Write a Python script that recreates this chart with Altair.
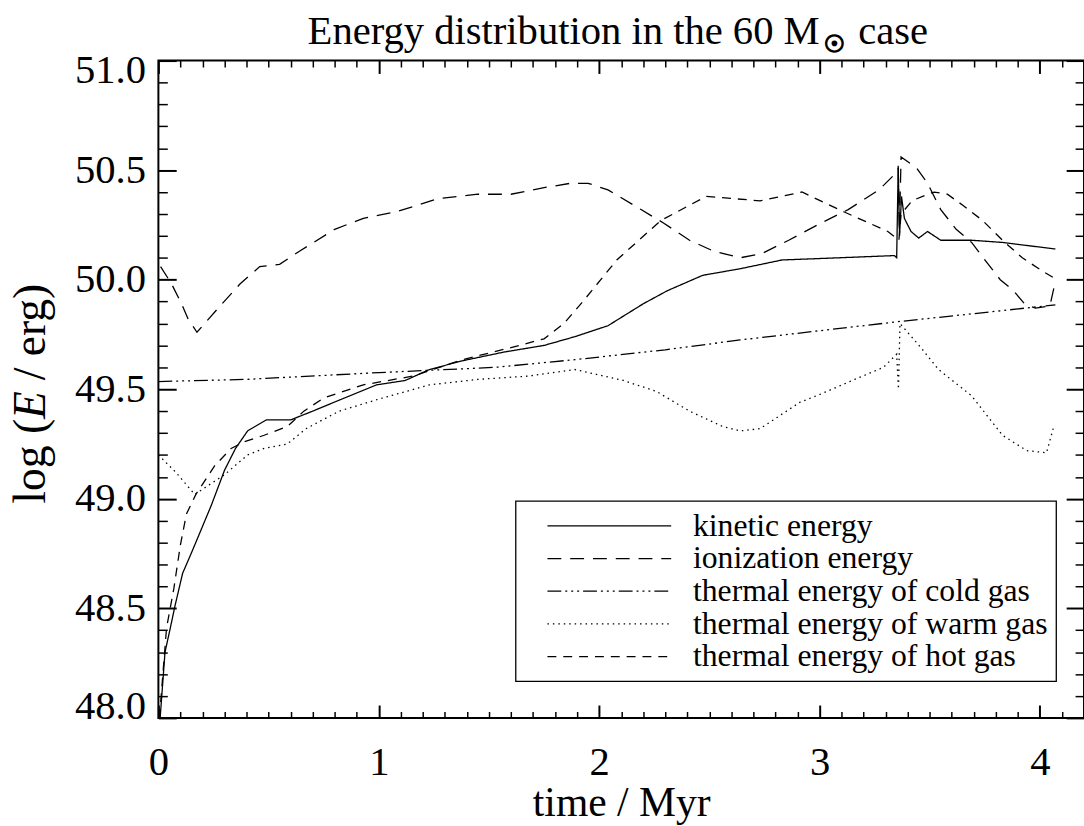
import altair as alt
import pandas as pd

# ---------------- data ----------------
series_names = ["kinetic energy", "ionization energy", "thermal energy of cold gas",
                "thermal energy of warm gas", "thermal energy of hot gas"]

kinetic_t = [0.008, 0.03, 0.054, 0.075, 0.11, 0.157, 0.24, 0.30, 0.35, 0.405, 0.49, 0.60, 0.70,
             0.82, 0.99, 1.12, 1.23, 1.38, 1.57, 1.75, 1.89, 2.04, 2.20, 2.31, 2.47, 2.64, 2.83,
             3.09, 3.34, 3.35, 3.357, 3.363, 3.372, 3.385, 3.415, 3.45, 3.49, 3.55, 3.69, 3.83, 4.07]
kinetic_v = [48.0, 48.30, 48.41, 48.51, 48.66, 48.77, 48.97, 49.13, 49.23, 49.31, 49.36, 49.36, 49.40,
             49.45, 49.52, 49.54, 49.59, 49.63, 49.67, 49.70, 49.74, 49.79, 49.89, 49.95, 50.02, 50.05, 50.09,
             50.10, 50.11, 50.10, 50.52, 50.20, 50.38, 50.28, 50.22, 50.19, 50.22, 50.18, 50.18, 50.17, 50.14]

ion_t = [0.01, 0.06, 0.105, 0.135, 0.175, 0.21, 0.28, 0.37, 0.46, 0.55, 0.64, 0.80, 0.93, 1.08, 1.27,
         1.45, 1.60, 1.75, 1.87, 1.95, 2.04, 2.19, 2.29, 2.41, 2.52, 2.64, 2.74, 2.86, 3.01, 3.13, 3.27,
         3.35, 3.357, 3.362, 3.37, 3.44, 3.49, 3.55, 3.62, 3.69, 3.75, 3.82, 3.88, 3.93, 3.98, 4.045, 4.063]
ion_v = [50.06, 49.98, 49.89, 49.82, 49.76, 49.80, 49.88, 49.98, 50.06, 50.07, 50.13, 50.23, 50.28, 50.31, 50.37,
         50.39, 50.39, 50.42, 50.44, 50.44, 50.41, 50.32, 50.26, 50.18, 50.13, 50.10, 50.12, 50.18, 50.26, 50.32, 50.41,
         50.49, 50.51, 50.22, 50.56, 50.51, 50.44, 50.32, 50.23, 50.17, 50.09, 50.00, 49.95, 49.89, 49.87, 49.88, 49.96]

cold_t = [0.0, 0.4, 1.0, 1.53, 1.89, 2.3, 2.64, 3.0, 3.37, 3.7, 4.07]
cold_v = [49.535, 49.545, 49.576, 49.60, 49.635, 49.68, 49.725, 49.767, 49.81, 49.845, 49.885]

warm_t = [0.0, 0.08, 0.165, 0.30, 0.405, 0.48, 0.585, 0.67, 0.82, 1.0, 1.23, 1.45, 1.68, 1.89, 2.11,
          2.26, 2.41, 2.56, 2.64, 2.73, 2.79, 2.91, 3.01, 3.16, 3.29, 3.35, 3.358, 3.365, 3.46, 3.54,
          3.69, 3.83, 3.94, 4.03, 4.06]
warm_v = [49.20, 49.12, 49.02, 49.11, 49.20, 49.23, 49.25, 49.32, 49.40, 49.455, 49.52, 49.545, 49.56, 49.59, 49.54,
          49.49, 49.40, 49.33, 49.31, 49.32, 49.36, 49.44, 49.48, 49.545, 49.60, 49.66, 49.50, 49.80, 49.69, 49.59,
          49.47, 49.29, 49.22, 49.21, 49.32]

hot_t = [0.005, 0.014, 0.037, 0.07, 0.10, 0.127, 0.17, 0.255, 0.33, 0.39, 0.48, 0.585, 0.66, 0.75, 0.93,
         1.155, 1.38, 1.60, 1.75, 1.84, 1.93, 2.08, 2.28, 2.485, 2.73, 2.92, 3.11, 3.31, 3.36, 3.37, 3.42,
         3.49, 3.52, 3.58, 3.65, 3.74, 3.83, 3.92, 4.01, 4.06]
hot_v = [48.0, 48.12, 48.41, 48.59, 48.79, 48.93, 49.02, 49.15, 49.23, 49.26, 49.29, 49.33, 49.40, 49.46, 49.52,
         49.56, 49.635, 49.69, 49.73, 49.80, 49.905, 50.09, 50.27, 50.38, 50.36, 50.40, 50.31, 50.22, 50.18, 50.30, 50.36,
         50.39, 50.40, 50.39, 50.34, 50.27, 50.18, 50.10, 50.04, 50.01]

x_major = [0, 1, 2, 3, 4]
x_minor = [round(i * 0.1, 1) for i in range(1, 42) if i % 10 != 0]
y_major = [48.0, 48.5, 49.0, 49.5, 50.0, 50.5, 51.0]
y_minor = [round(48 + i * 0.1, 1) for i in range(1, 30) if i % 5 != 0]

dash_styles = [[1, 0], [14, 9], [14, 4, 2, 4, 2, 4, 2, 4], [1.5, 4], [9, 7]]

# ---------------- table ----------------
rows = []
for name, ts, vs in zip(series_names, [kinetic_t, ion_t, cold_t, warm_t, hot_t],
                        [kinetic_v, ion_v, cold_v, warm_v, hot_v]):
    for i, (t, v) in enumerate(zip(ts, vs)):
        rows.append({"series": name, "t": t, "v": v, "i": i})
df = pd.DataFrame(rows)

FONT = "Liberation Serif"
xscale = alt.Scale(domain=[0, 4.2], nice=False, zero=False)
yscale = alt.Scale(domain=[48, 51], nice=False, zero=False)

lines = alt.Chart(df).mark_line(color="black", strokeWidth=1.3, clip=True).encode(
    x=alt.X("t:Q", scale=xscale,
            axis=alt.Axis(values=x_major, ticks=False, tickSize=0, domain=False, grid=False,
                          labelFont=FONT, labelFontSize=41, labelColor="black", labelPadding=25,
                          labelBaseline="top", labelFlush=False,
                          title="time / Myr", titleFont=FONT, titleFontSize=42,
                          titleFontWeight="normal", titleColor="black",
                          titleY=99, titleBaseline="alphabetic")),
    y=alt.Y("v:Q", scale=yscale,
            axis=alt.Axis(values=y_major, ticks=False, tickSize=0, domain=False, grid=False,
                          format=".1f", labelFont=FONT, labelFontSize=41, labelColor="black",
                          labelPadding=13, labelFlush=True, labelFlushOffset=10, title=None)),
    strokeDash=alt.StrokeDash("series:N", sort=series_names,
                              scale=alt.Scale(domain=series_names, range=dash_styles),
                              legend=None),
    order=alt.Order("i:Q"),
)


def tick_layer(xorient, yorient, xvals, yvals, xlen, ylen, w):
    return alt.Chart(df).mark_point(opacity=0).encode(
        x=alt.X("t:Q", scale=xscale,
                axis=alt.Axis(orient=xorient, values=xvals, labels=False, domain=False, grid=False,
                              ticks=True, tickSize=xlen, offset=-xlen, tickWidth=w, tickColor="black",
                              title=None)),
        y=alt.Y("v:Q", scale=yscale,
                axis=alt.Axis(orient=yorient, values=yvals, labels=False, domain=False, grid=False,
                              ticks=True, tickSize=ylen, offset=-ylen, tickWidth=w, tickColor="black",
                              title=None)),
    )


t_maj_bl = tick_layer("bottom", "left", x_major, y_major, 13, 18, 2)
t_min_bl = tick_layer("bottom", "left", x_minor, y_minor, 6.5, 9, 1.5)
t_maj_tr = tick_layer("top", "right", x_major, y_major, 13, 18, 2)
t_min_tr = tick_layer("top", "right", x_minor, y_minor, 6.5, 9, 1.5)

one = pd.DataFrame({"k": [0]})


def label(text, x, y, align, size=42, font=FONT, style="normal", weight="normal", angle=0,
          stroke_w=0):
    kw = {}
    if stroke_w:
        kw = {"stroke": "black", "strokeWidth": stroke_w}
    return alt.Chart(one).mark_text(text=text, align=align, baseline="alphabetic", fontSize=size,
                                    font=font, fontStyle=style, fontWeight=weight, angle=angle,
                                    color="black", **kw).encode(x=alt.value(x), y=alt.value(y))


title1 = label("Energy distribution in the 60 M", 668, -17, "right", size=41)
title2 = label("\u2609", 672, -9, "left", size=24, font="DejaVu Sans", weight="bold", stroke_w=1.5)
title3 = label("case", 707, -17, "left", size=41)

ytitle1 = label("log (", -115, 362, "right", size=46, angle=270)
ytitle2 = label("E", -115, 362, "left", size=46, style="italic", angle=270)
ytitle3 = label("/ erg)", -115, 323, "left", size=46, angle=270)

# ---------------- hand-drawn legend box (IDL style) ----------------
legend_box = alt.Chart(one).mark_rect(fill="white", stroke="black", strokeWidth=1.3).encode(
    x=alt.value(361), x2=alt.value(907), y=alt.value(445), y2=alt.value(627))

legend_layers = [legend_box]
row_y0, row_step = 470, 33
for k, (name, dash) in enumerate(zip(series_names, dash_styles)):
    yy = row_y0 + k * row_step
    legend_layers.append(
        alt.Chart(one).mark_rule(color="black", strokeWidth=1.3, strokeDash=dash).encode(
            x=alt.value(393), x2=alt.value(518), y=alt.value(yy)))
    legend_layers.append(label(name, 540, yy + 10, "left", size=32))

chart = alt.layer(lines, t_maj_bl, t_min_bl, t_maj_tr, t_min_tr,
                  title1, title2, title3, ytitle1, ytitle2, ytitle3, *legend_layers).resolve_axis(
    x="independent", y="independent"
).properties(
    width=935, height=664,
    autosize=alt.AutoSizeParams(type="none"),
    padding={"left": 160, "top": 57, "right": 0, "bottom": 105},
    background="white",
).configure_view(stroke="black", strokeWidth=2)

chart.save("out.html", embed_options={"renderer": "svg", "actions": False})
